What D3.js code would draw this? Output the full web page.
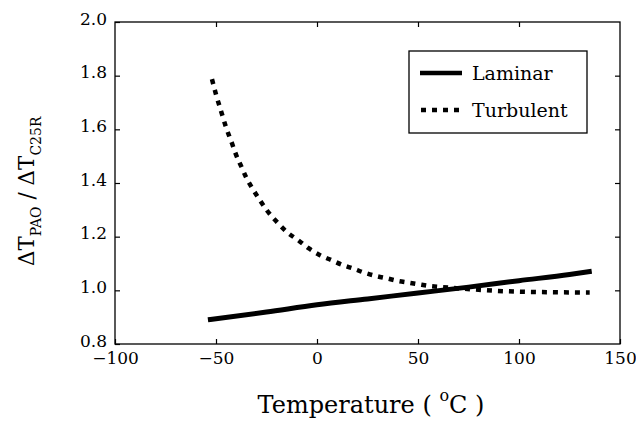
<!DOCTYPE html>
<html><head><meta charset="utf-8">
<script src="https://cdn.jsdelivr.net/npm/d3@7"></script>
<style>
html,body{margin:0;padding:0;background:#fff;}
svg text{font-family:"DejaVu Serif",serif;fill:#000;}
</style></head>
<body><svg id="c" width="636" height="422"></svg>
<script>
// ---- data ----
const xTicks = [-100, -50, 0, 50, 100, 150];
const yTicks = [0.8, 1.0, 1.2, 1.4, 1.6, 1.8, 2.0];
const laminarT = [-54, -25, 0, 25, 50, 75, 100, 125, 136];
const laminarV = [0.890, 0.919, 0.946, 0.968, 0.990, 1.012, 1.036, 1.059, 1.071];
const turbT = [-52, -50, -47.5, -45, -42, -40, -37.5, -35, -32, -28.7, -25, -20, -15, -9, -4, 1.5, 7, 12.5, 18, 23, 29, 35, 40, 45, 50, 56, 62, 67, 78, 89, 100, 115, 135];
const turbV = [1.787, 1.73, 1.668, 1.607, 1.546, 1.504, 1.462, 1.42, 1.38, 1.341, 1.30, 1.256, 1.218, 1.185, 1.156, 1.131, 1.113, 1.095, 1.081, 1.067, 1.054, 1.044, 1.035, 1.029, 1.023, 1.016, 1.012, 1.009, 1.003, 0.998, 0.995, 0.993, 0.992];
const seriesNames = ["Laminar", "Turbulent"];

// ---- layout ----
const L = 115, R = 620, T = 22, B = 344;
const svg = d3.select("#c");
const x = d3.scaleLinear().domain([-100, 150]).range([L, R]);
const y = d3.scaleLinear().domain([0.8, 2.0]).range([B, T]);

// frame
svg.append("rect").attr("x", L).attr("y", T).attr("width", R - L).attr("height", B - T)
  .attr("fill", "none").attr("stroke", "#000").attr("stroke-width", 1.3);

function styleAxis(g) {
  g.select(".domain").remove();
  g.selectAll(".tick line").attr("stroke", "#000").attr("stroke-width", 1.2);
  g.selectAll(".tick text").attr("font-family", "DejaVu Serif").attr("font-size", 17).attr("fill", "#000");
}
const fmtY = d3.format(".1f");
svg.append("g").attr("transform", `translate(${L},0)`)
  .call(d3.axisLeft(y).tickValues(yTicks).tickFormat(fmtY).tickSizeInner(-5).tickSizeOuter(0).tickPadding(8))
  .call(styleAxis)
  .call(g => g.selectAll(".tick text").attr("dy", "0.12em"));
svg.append("g").attr("transform", `translate(${R},0)`)
  .call(d3.axisRight(y).tickValues(yTicks.slice(1, -1)).tickFormat("").tickSizeInner(-5).tickSizeOuter(0))
  .call(styleAxis);
svg.append("g").attr("transform", `translate(0,${B})`)
  .call(d3.axisBottom(x).tickValues(xTicks).tickFormat(d3.format("d")).tickSizeInner(-5).tickSizeOuter(0).tickPadding(8))
  .call(styleAxis);
svg.append("g").attr("transform", `translate(0,${T})`)
  .call(d3.axisTop(x).tickValues(xTicks.slice(1, -1)).tickFormat("").tickSizeInner(-5).tickSizeOuter(0))
  .call(styleAxis);

// lines
const line = d3.line().x(d => x(d[0])).y(d => y(d[1])).curve(d3.curveMonotoneX);
const lam = laminarT.map((t, i) => [t, laminarV[i]]);
const tur = turbT.map((t, i) => [t, turbV[i]]);
svg.append("path").attr("d", line(lam)).attr("fill", "none").attr("stroke", "#000").attr("stroke-width", 5);
svg.append("path").attr("d", line(tur)).attr("fill", "none").attr("stroke", "#000").attr("stroke-width", 4.5)
  .attr("stroke-dasharray", "5,6");

// legend
const lg = svg.append("g");
lg.append("rect").attr("x", 409).attr("y", 51).attr("width", 178).attr("height", 82)
  .attr("fill", "#fff").attr("stroke", "#000").attr("stroke-width", 1.3);
lg.append("line").attr("x1", 420).attr("x2", 462).attr("y1", 73).attr("y2", 73)
  .attr("stroke", "#000").attr("stroke-width", 4.5);
lg.append("line").attr("x1", 421).attr("x2", 460).attr("y1", 110).attr("y2", 110)
  .attr("stroke", "#000").attr("stroke-width", 4.5).attr("stroke-dasharray", "5,6");
lg.append("text").attr("x", 472).attr("y", 80).attr("font-size", 19).text(seriesNames[0]);
lg.append("text").attr("x", 472).attr("y", 117).attr("font-size", 19).text(seriesNames[1]);

// x title
const xt = svg.append("text").attr("x", 371).attr("y", 413).attr("text-anchor", "middle").attr("font-size", 24);
xt.append("tspan").text("Temperature ( ");
xt.append("tspan").attr("font-size", 16).attr("dy", -12).text("o");
xt.append("tspan").attr("dy", 12).text("C )");

// y title: starts at bottom (y≈265) and reads upward
const yt = svg.append("text").attr("transform", "translate(34,266) rotate(-90)")
  .attr("text-anchor", "start").attr("font-size", 21.5);
yt.append("tspan").text("ΔT");
yt.append("tspan").attr("font-size", 14).attr("dy", 7).text("PAO");
yt.append("tspan").attr("dy", -7).text("\u00a0/\u00a0ΔT");
yt.append("tspan").attr("font-size", 14).attr("dy", 7).text("C25R");
</script></body></html>
